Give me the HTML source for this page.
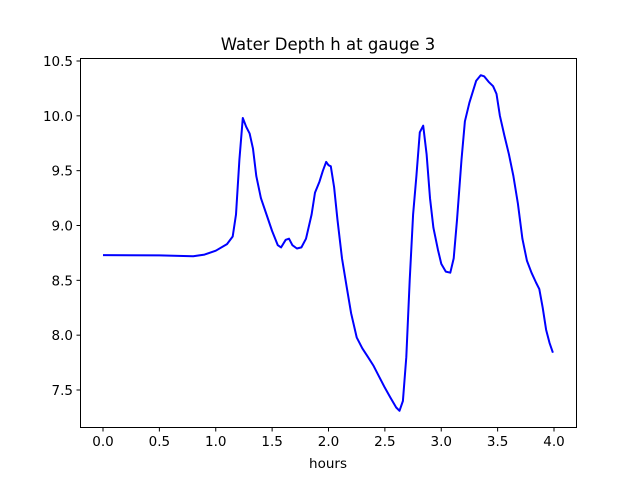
<!DOCTYPE html>
<html><head><meta charset="utf-8"><style>
body{margin:0;background:#fff;}
svg{display:block;font-family:"DejaVu Sans","Liberation Sans",sans-serif;}
</style></head><body>
<svg id="chart" width="640" height="480">
<rect x="0" y="0" width="640" height="480" fill="#fff"/>
<text x="328" y="50" text-anchor="middle" font-size="16.5">Water Depth h at gauge 3</text>
<g id="xt"></g>
<g id="yt"></g>
<text x="328" y="468" text-anchor="middle" font-size="13.5">hours</text>
<polyline id="line" fill="none" stroke="#0000ff" stroke-width="2" stroke-linejoin="round"/>
<rect x="80.5" y="58.5" width="496" height="369" fill="none" stroke="#000" stroke-width="1"/>
</svg>
<script>
const hours=[0,0.5,0.8,0.9,1.0,1.1,1.15,1.18,1.21,1.24,1.27,1.3,1.33,1.36,1.4,1.45,1.5,1.55,1.58,1.62,1.65,1.68,1.72,1.76,1.8,1.85,1.88,1.92,1.95,1.98,2.0,2.02,2.05,2.08,2.12,2.16,2.2,2.25,2.3,2.35,2.4,2.45,2.5,2.55,2.6,2.63,2.66,2.69,2.72,2.75,2.78,2.81,2.84,2.87,2.9,2.93,2.97,3.0,3.04,3.08,3.11,3.14,3.18,3.21,3.25,3.28,3.31,3.35,3.38,3.42,3.46,3.49,3.52,3.56,3.6,3.64,3.68,3.72,3.76,3.8,3.84,3.87,3.9,3.93,3.96,3.99];
const depth=[8.73,8.727,8.72,8.735,8.77,8.83,8.9,9.1,9.6,9.98,9.9,9.84,9.7,9.45,9.25,9.1,8.95,8.82,8.8,8.87,8.88,8.82,8.79,8.8,8.88,9.1,9.3,9.4,9.5,9.58,9.55,9.54,9.35,9.05,8.7,8.45,8.2,7.98,7.88,7.8,7.72,7.62,7.52,7.43,7.34,7.31,7.4,7.8,8.5,9.1,9.45,9.85,9.91,9.65,9.25,8.98,8.78,8.65,8.58,8.57,8.7,9.05,9.6,9.95,10.12,10.22,10.32,10.37,10.36,10.31,10.27,10.2,10.0,9.82,9.65,9.45,9.2,8.88,8.68,8.57,8.48,8.42,8.25,8.05,7.93,7.84];
const xTicks=[0,0.5,1.0,1.5,2.0,2.5,3.0,3.5,4.0];
const xTickLabels=["0.0","0.5","1.0","1.5","2.0","2.5","3.0","3.5","4.0"];
const yTicks=[7.5,8.0,8.5,9.0,9.5,10.0,10.5];
const yTickLabels=["7.5","8.0","8.5","9.0","9.5","10.0","10.5"];
const NS="http://www.w3.org/2000/svg";
const X=v=>103+v*112.75;
const Y=v=>390-(v-7.5)*109.67;
function mk(tag,attrs,parent){const e=document.createElementNS(NS,tag);for(const k in attrs)e.setAttribute(k,attrs[k]);parent.appendChild(e);return e;}
const xt=document.getElementById('xt'),yt=document.getElementById('yt');
xTicks.forEach((t,i)=>{const x=X(t);
 const l=mk('line',{x1:x,x2:x,y1:427.5,y2:431.5,stroke:'#000'},xt);
 
 
 const s=mk('text',{x:x,y:446,'text-anchor':'middle','font-size':'13.5'},xt);
 
 
 s.textContent=xTickLabels[i];});
yTicks.forEach((t,i)=>{const y=Y(t);
 const l=mk('line',{x1:76.5,x2:80.5,y1:y,y2:y,stroke:'#000'},yt);
 
 
 const s=mk('text',{x:73,y:y+5,'text-anchor':'end','font-size':'13.5'},yt);
 
 
 s.textContent=yTickLabels[i];});
document.getElementById('line').setAttribute('points',hours.map((h,i)=>X(h).toFixed(1)+','+Y(depth[i]).toFixed(1)).join(' '));
</script>
</body></html>
